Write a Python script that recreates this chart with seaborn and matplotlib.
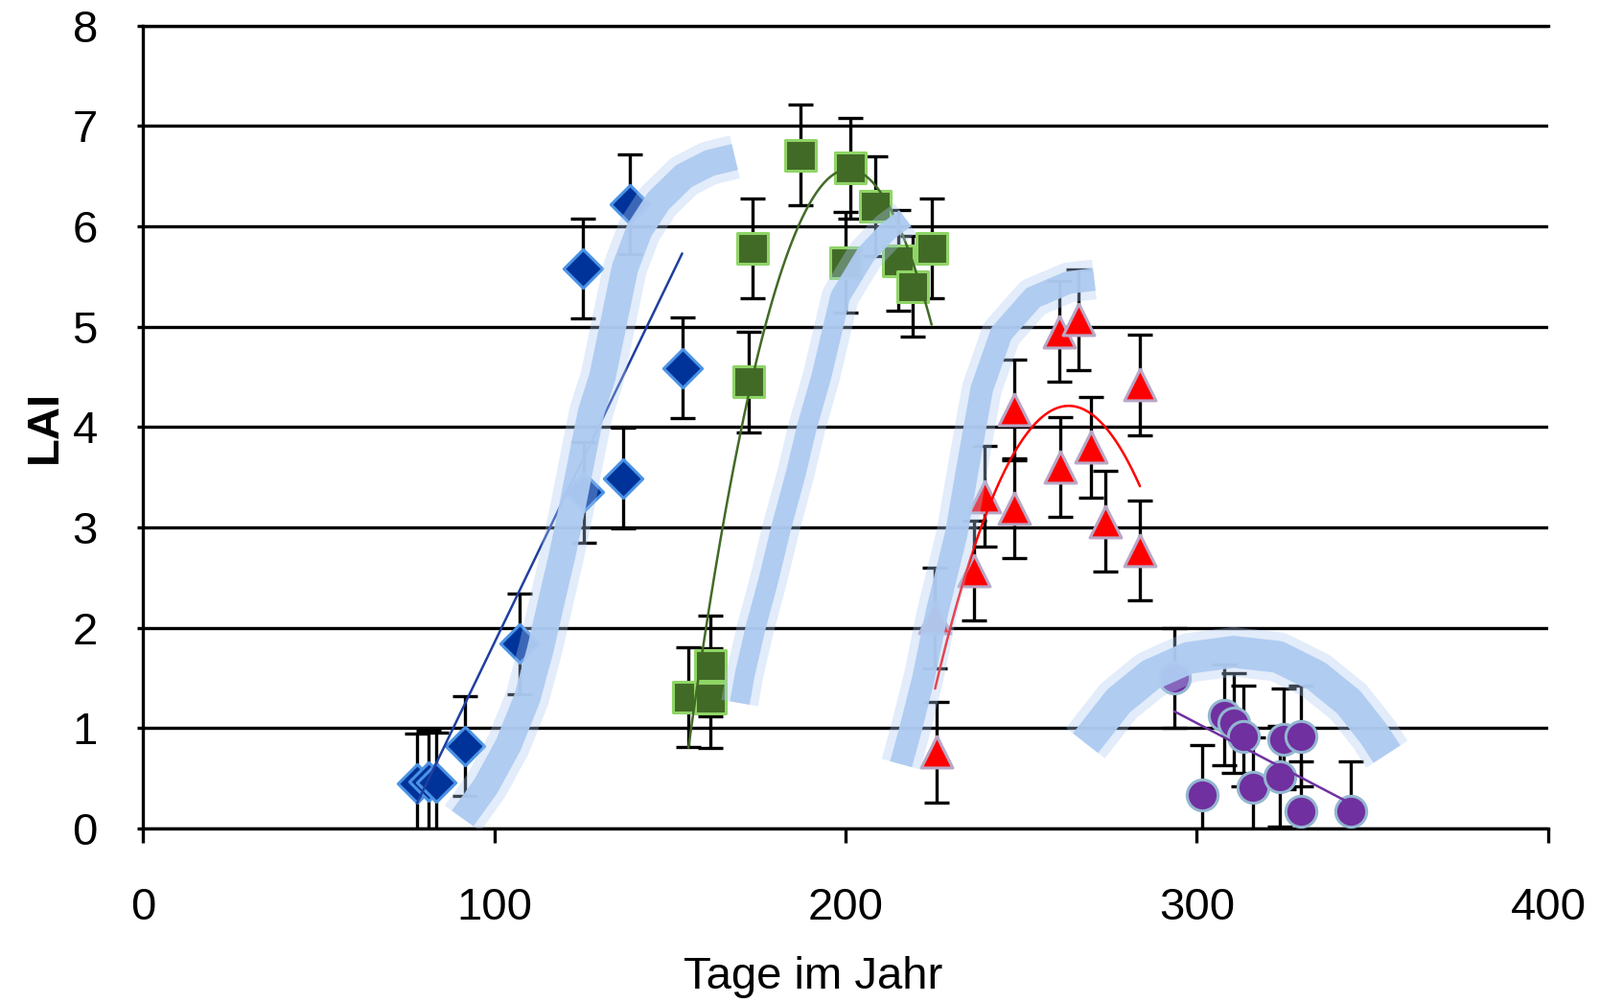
import numpy as np
import matplotlib
matplotlib.use('Agg')
import matplotlib.pyplot as plt
import seaborn as sns

# Messreihen: Tag im Jahr, LAI und Standardabweichung
blue_day = [78.0, 81.2, 83.5, 91.7, 107.3, 125.6, 125.3, 136.7, 138.5, 153.5]
blue_lai = [0.45, 0.47, 0.46, 0.82, 1.84, 3.35, 5.58, 3.49, 6.22, 4.59]
blue_err = [0.5, 0.5, 0.5, 0.5, 0.5, 0.5, 0.5, 0.5, 0.5, 0.5]

green_day = [155.3, 161.5, 161.5, 172.4, 173.5, 187.2, 199.9, 201.3, 208.5, 214.9, 219.0, 224.5]
green_lai = [1.31, 1.30, 1.62, 4.45, 5.78, 6.71, 5.64, 6.58, 6.20, 5.66, 5.40, 5.78]
green_err = [0.5, 0.5, 0.5, 0.5, 0.5, 0.5, 0.5, 0.5, 0.5, 0.5, 0.5, 0.5]

red_day = [226.0, 225.5, 236.5, 239.7, 248.0, 248.0, 260.8, 266.3, 261.0, 269.9, 274.0, 283.8, 283.8]
red_lai = [0.76, 2.10, 2.57, 3.31, 3.19, 4.17, 4.95, 5.07, 3.60, 3.80, 3.06, 2.77, 4.42]
red_err = [0.5, 0.5, 0.5, 0.5, 0.5, 0.5, 0.5, 0.5, 0.5, 0.5, 0.5, 0.5, 0.5]

purple_day = [293.6, 301.4, 307.7, 310.4, 313.2, 315.9, 323.7, 324.6, 329.6, 329.6, 343.7]
purple_lai = [1.50, 0.33, 1.13, 1.05, 0.92, 0.41, 0.52, 0.89, 0.92, 0.17, 0.17]
purple_err = [0.5, 0.5, 0.5, 0.5, 0.5, 0.5, 0.5, 0.5, 0.5, 0.5, 0.5]

# eingezeichnete Verlaufsbaender (hellblau)
band1_day = [91.0, 97.6, 104.0, 109.4, 113.1, 116.2, 119.4, 122.2, 124.9, 127.6, 130.8,
             134.0, 137.2, 141.3, 146.7, 154.0, 161.3, 168.5]
band1_lai = [0.10, 0.42, 0.83, 1.30, 1.78, 2.25, 2.73, 3.20, 3.68, 4.15, 4.50,
             5.04, 5.58, 5.96, 6.25, 6.50, 6.63, 6.69]
band2_day = [169.9, 171.3, 174.4, 178.1, 181.7, 185.8, 189.0, 193.1, 198.5, 205.8, 212.0, 217.0]
band2_lai = [1.25, 1.53, 2.00, 2.48, 3.00, 3.53, 4.00, 4.50, 5.30, 5.72, 5.95, 6.08]
band3_day = [215.8, 218.6, 222.2, 226.0, 231.5, 235.1, 238.8, 244.3, 253.4, 263.5, 270.8]
band3_lai = [0.64, 1.00, 1.50, 2.15, 2.93, 3.66, 4.38, 4.93, 5.29, 5.44, 5.47]
band4_day = [268.3, 277.7, 286.8, 297.7, 310.4, 323.1, 334.0, 343.2, 350.4, 354.1]
band4_lai = [0.85, 1.27, 1.53, 1.70, 1.76, 1.71, 1.52, 1.26, 0.94, 0.74]

series = [
    (blue_day, blue_lai, blue_err, 'D', 420, '#003399', '#4a93e6', '#1f3f9f', 1),
    (green_day, green_lai, green_err, 's', 560, '#426a27', '#8fd566', '#426a27', 2),
    (red_day, red_lai, red_err, '^', 560, '#ff0000', '#b9a7c6', '#ff0000', 2),
    (purple_day, purple_lai, purple_err, 'o', 540, '#7030a0', '#93b6d0', '#7030a0', 1),
]
bands = [(band1_day, band1_lai, 20), (band2_day, band2_lai, 15),
         (band3_day, band3_lai, 17), (band4_day, band4_lai, 24)]

sns.set_style('white')
plt.rcParams['font.family'] = ['Liberation Sans', 'DejaVu Sans']
plt.rcParams['text.color'] = 'black'
plt.rcParams['axes.labelcolor'] = 'black'

fig = plt.figure(figsize=(16.69, 10.46), dpi=100)
ax = fig.add_axes([0.0893, 0.174, 0.8783, 0.8006])

for day, lai, err, marker, size, face, edge, line_col, order in series:
    ax.errorbar(day, lai, yerr=err, fmt='none', ecolor='black', elinewidth=2.4,
                capsize=9.5, capthick=2.4, zorder=3)
    sns.scatterplot(x=day, y=lai, marker=marker, s=size, color=face,
                    edgecolor=edge, linewidth=2.2, zorder=4, ax=ax, legend=False)
    sns.regplot(x=np.array(day), y=np.array(lai), order=order, ci=None,
                scatter=False, truncate=True,
                line_kws={'color': line_col, 'lw': 1.8, 'zorder': 5}, ax=ax)

band_col = '#aecbf1'
for bday, blai, core in bands:
    ax.plot(bday, blai, color=band_col, lw=core + 13, alpha=0.35,
            solid_capstyle='butt', solid_joinstyle='round', zorder=6)
    ax.plot(bday, blai, color=band_col, lw=core, alpha=0.95,
            solid_capstyle='butt', solid_joinstyle='round', zorder=7)

ax.set_xlim(0, 400)
ax.set_ylim(0, 8)
ax.set_xticks([0, 100, 200, 300, 400])
ax.set_yticks(range(0, 9))
ax.set_axisbelow(True)
ax.yaxis.grid(True, color='black', lw=2.4)
ax.xaxis.grid(False)
for side in ['left', 'bottom', 'top']:
    ax.spines[side].set_visible(True)
    ax.spines[side].set_color('black')
    ax.spines[side].set_linewidth(2.4)
ax.spines['right'].set_visible(False)

ax.tick_params(axis='x', direction='out', length=11, width=2.4, pad=33,
               labelsize=34, colors='black', bottom=True)
ax.tick_params(axis='y', direction='out', length=4, width=2.4, pad=30,
               labelsize=34, colors='black', left=True)

ax.set_xlabel('Tage im Jahr', fontsize=34, labelpad=20, x=0.477, color='black')
ax.set_ylabel('LAI', fontsize=34, fontweight='bold', labelpad=5, color='black')

fig.savefig('out.png', dpi=100)
